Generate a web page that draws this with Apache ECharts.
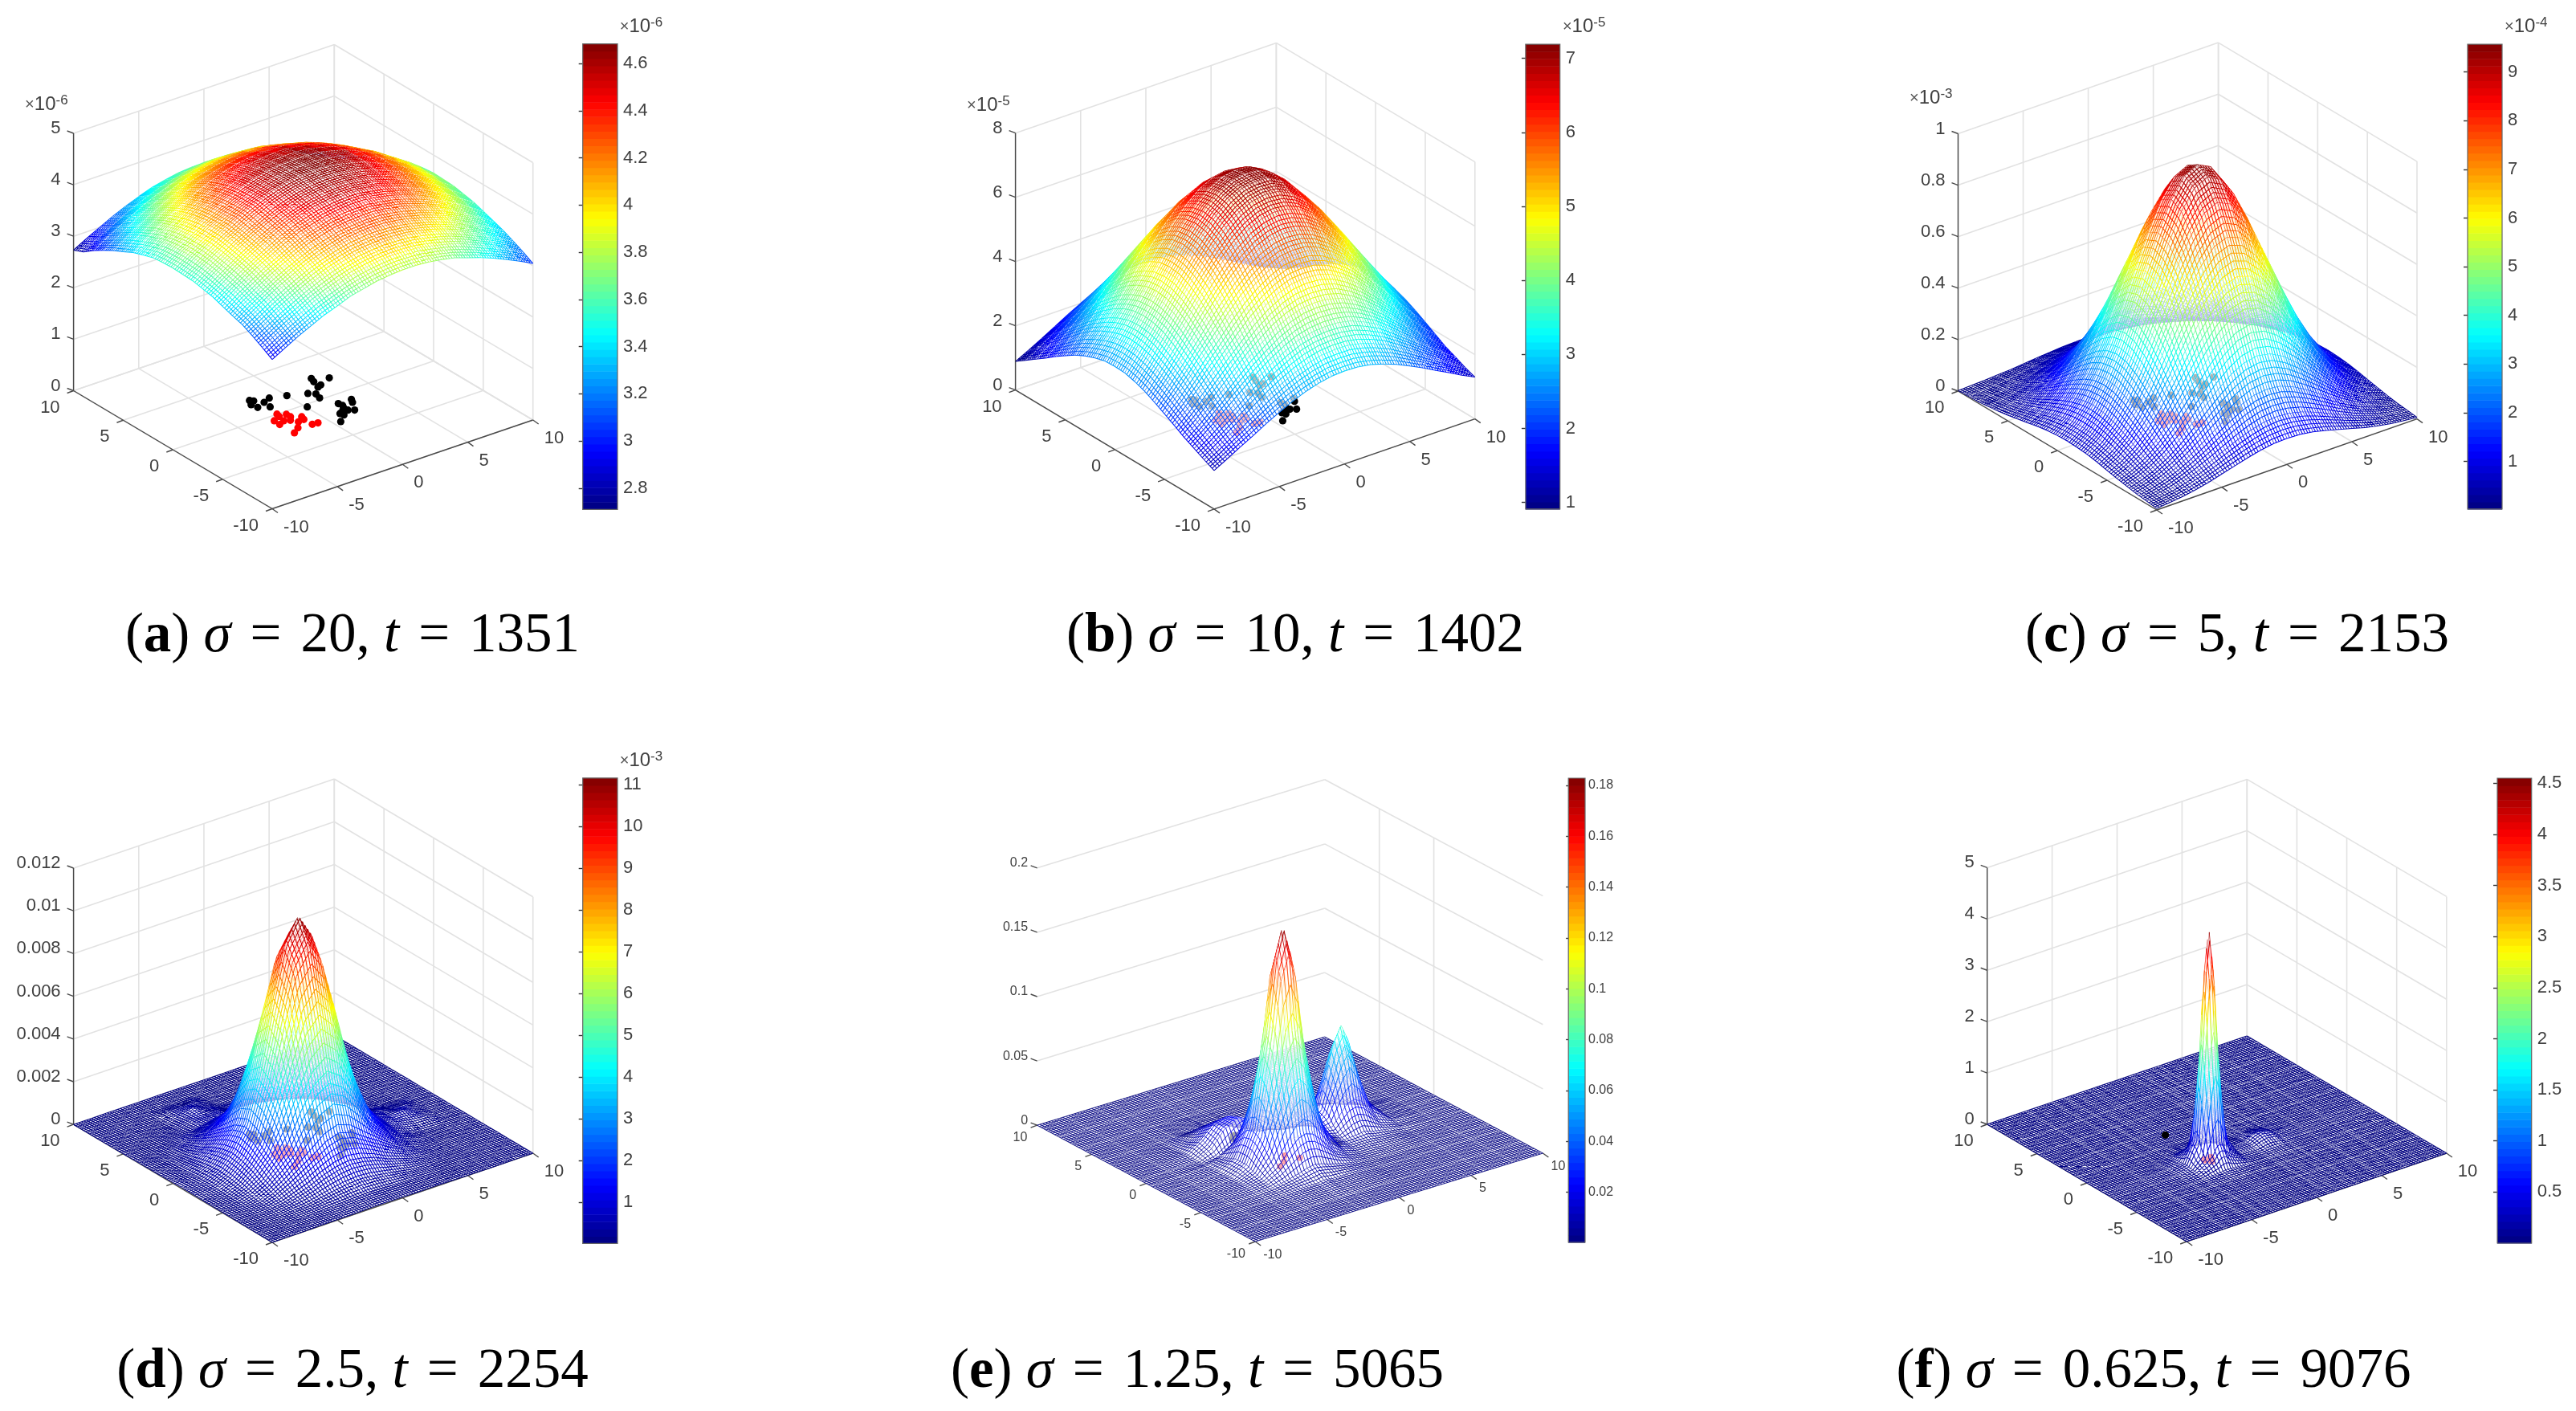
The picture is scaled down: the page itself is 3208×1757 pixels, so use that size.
<!DOCTYPE html>
<html>
<head>
<meta charset="utf-8">
<style>html,body{margin:0;background:#fff}#chart{width:3208px;height:1757px}</style>
<script src="https://cdn.jsdelivr.net/npm/echarts@6/dist/echarts.min.js"></script>
</head>
<body>
<div id="chart"></div>
<script>
// grid coordinates of the surfaces
const axisStep1 = [-10,-9,-8,-7,-6,-5,-4,-3,-2,-1,0,1,2,3,4,5,6,7,8,9,10];
const uD = [-10,-8.5,-7.5,-6.5,-5.5,-4.5,-3.5,-2.5,-1.5,-.5,.5,1.5,2.5,3.5,4.5,5.5,6.5,7.5,8.5,10];
const uE = [-10,-8,-6,-5,-4.1,-3.1,-2.6,-2.1,-1.6,-1.1,-.1,.9,1.74,2.74,3.24,3.74,4.74,6,8,10];
const vE = [-10,-8,-6,-5,-4.1,-3.1,-2.6,-2.1,-1.6,-1.1,-.4,.1,.6,1.5,2.5,4,6,8,10];
const uF = [-10,-7,-5,-4,-3.24,-2.74,-2.49,-2.24,-1.99,-1.74,-1.24,-.3,1,1.6,2.07,2.6,3.2,5,7,10];
const vF = [-10,-7,-5,-4,-3.1,-2.6,-2.35,-2.1,-1.85,-1.6,-1.1,-.3,1,3,5,7,10];

// heights, rows go from v=-10 to v=10. units: a 1e-8, b 1e-7, c 1e-6, d 1e-5, e 1e-3, f 1e-2
const surfaceA = [
[290,304,318,330,342,351,361,367,373,376,378,378,376,372,367,358,350,340,329,317,304],
[302,317,331,344,357,367,376,384,389,393,395,394,392,387,381,374,364,353,341,329,315],
[313,328,344,357,370,381,391,398,404,407,409,408,406,401,395,387,377,365,353,339,325],
[323,339,355,369,382,394,403,411,417,420,422,421,418,413,406,398,388,375,362,349,334],
[329,347,362,378,391,403,414,421,428,431,433,433,430,425,418,409,399,386,372,357,341],
[336,355,371,387,400,413,424,431,438,442,444,444,440,435,428,419,408,395,381,365,348],
[343,360,378,393,408,421,432,440,447,451,453,453,449,444,436,427,416,402,388,371,355],
[347,366,383,399,413,426,438,446,453,457,459,459,455,450,442,432,421,407,393,376,359],
[351,370,387,404,418,431,443,451,458,462,464,464,460,455,447,437,426,412,397,380,363],
[352,372,390,407,422,436,447,456,462,466,467,467,464,458,451,440,428,415,399,383,364],
[353,373,390,407,421,435,447,455,462,466,468,467,464,459,451,441,429,415,400,383,365],
[352,372,389,406,420,434,446,455,461,465,466,466,464,458,451,440,428,414,399,382,363],
[350,369,386,402,417,430,442,450,456,460,462,462,459,453,446,435,423,410,393,376,359],
[344,363,380,396,411,423,435,443,450,454,456,456,452,446,439,428,416,402,388,371,354],
[337,355,373,388,403,416,427,435,442,446,447,447,443,437,430,420,408,394,380,363,347],
[327,346,362,378,392,405,416,424,430,434,435,435,431,425,419,409,397,384,371,355,339],
[318,335,351,366,380,392,403,411,417,421,422,421,419,413,406,397,386,373,360,345,330],
[307,323,339,354,367,379,389,397,403,407,408,407,405,399,392,383,373,360,346,331,317],
[295,311,326,340,353,364,374,382,387,391,392,391,389,384,377,368,358,346,333,318,303],
[281,297,311,324,337,348,357,364,370,373,375,374,372,367,360,352,342,331,318,304,290],
[273,287,300,313,324,334,343,349,354,356,357,356,355,350,345,336,328,316,305,293,281]];
const surfaceB = [
[120,142,165,187,210,231,251,267,279,287,289,288,281,269,254,235,215,193,172,150,130],
[135,159,186,212,239,266,289,309,324,334,337,336,328,314,296,272,246,219,193,166,142],
[151,180,211,243,275,306,334,357,376,386,390,388,380,363,342,312,280,249,217,186,157],
[167,200,237,274,312,349,380,409,429,442,446,443,432,412,384,353,316,278,241,204,171],
[186,223,265,308,351,390,430,461,485,500,504,501,488,464,433,394,355,312,269,227,190],
[204,247,293,342,387,435,477,511,537,555,560,557,541,514,481,439,393,347,298,252,209],
[221,268,318,370,424,474,519,557,585,602,608,603,587,560,522,478,428,375,323,273,226],
[237,287,341,399,455,508,557,598,629,648,655,650,632,601,560,512,460,404,346,292,242],
[249,302,360,419,479,534,585,629,663,683,690,686,667,633,589,538,484,424,365,307,254],
[257,312,370,432,494,552,602,648,683,705,712,710,688,652,606,556,499,437,375,317,262],
[259,315,374,436,498,557,608,655,690,712,719,715,694,659,612,561,503,441,379,320,264],
[257,312,370,432,494,552,602,648,683,705,712,708,687,651,605,555,498,436,374,316,261],
[248,301,359,418,478,533,585,629,663,683,690,685,665,632,588,537,483,423,364,306,253],
[236,286,340,398,454,507,557,598,629,648,655,649,631,600,559,511,458,402,345,291,241],
[220,267,317,369,423,473,519,557,585,602,608,603,587,559,521,477,427,373,321,271,225],
[199,243,289,338,383,431,474,508,534,552,557,553,536,510,476,435,387,342,293,247,205],
[178,215,258,301,344,383,424,455,479,494,498,495,481,457,426,387,348,305,262,220,184],
[155,188,226,263,301,338,370,399,419,432,436,433,421,401,372,342,305,267,230,193,160],
[133,162,194,226,258,289,318,341,360,370,374,371,362,343,320,293,262,230,198,167,138],
[111,135,163,189,216,243,268,287,302,312,315,313,304,289,270,247,220,193,167,140,116],
[89,110,132,155,178,200,221,237,249,257,259,258,251,239,223,204,183,160,138,116,100]];
const surfaceC = [
[6,11,17,26,37,51,65,79,91,99,101,99,91,79,65,51,37,26,17,11,6],
[11,17,27,42,60,81,104,126,145,158,163,158,145,126,104,81,60,42,27,17,11],
[15,26,42,63,91,123,158,191,220,240,246,240,220,191,158,123,91,63,42,26,15],
[22,37,60,91,130,177,226,274,315,342,352,342,315,274,226,177,130,91,60,37,22],
[30,51,81,123,177,240,306,372,428,467,480,467,428,372,306,240,177,123,81,51,30],
[38,65,104,158,226,306,394,480,549,597,614,597,549,480,394,306,226,158,104,65,38],
[47,79,126,191,274,372,480,581,668,724,744,724,668,581,480,372,274,191,126,79,47],
[54,91,145,220,315,428,549,668,765,832,856,832,765,668,549,428,315,220,145,91,54],
[58,99,158,240,342,467,597,724,832,905,931,905,832,724,597,467,342,240,158,99,58],
[60,101,163,246,352,480,614,744,856,931,957,931,856,744,614,480,352,246,163,101,60],
[58,99,158,240,342,467,597,724,832,905,931,905,832,724,597,467,342,240,158,99,58],
[54,91,145,220,315,428,549,668,765,832,856,832,765,668,549,428,315,220,145,91,54],
[47,79,126,191,274,372,480,581,668,724,744,724,668,581,480,372,274,191,126,79,47],
[38,65,104,158,226,306,394,480,549,597,614,597,549,480,394,306,226,158,104,65,38],
[30,51,81,123,177,240,306,372,428,467,480,467,428,372,306,240,177,123,81,51,30],
[22,37,60,91,130,177,226,274,315,342,352,342,315,274,226,177,130,91,60,37,22],
[15,26,42,63,91,123,158,191,220,240,246,240,220,191,158,123,91,63,42,26,15],
[11,17,27,42,60,81,104,126,145,158,163,158,145,126,104,81,60,42,27,17,11],
[6,11,17,26,37,51,65,79,91,99,101,99,91,79,65,51,37,26,17,11,6],
[4,6,11,15,22,30,38,47,54,58,60,58,54,47,38,30,22,15,11,6,4],
[2,4,6,9,12,17,22,26,30,32,33,32,30,26,22,17,12,9,6,4,2]];
const surfaceD = [
[0,1,1,2,3,3,4,5,6,5,4,3,3,2,1,1,0,0,0,0],
[1,1,3,5,8,12,14,18,20,18,14,12,8,5,3,1,1,0,0,0],
[1,3,5,12,16,28,40,50,55,50,40,28,16,12,5,3,1,0,0,0],
[2,5,12,20,40,60,90,110,120,110,90,60,40,20,12,5,2,1,0,0],
[3,8,16,40,75,120,160,205,225,205,160,120,75,40,16,8,3,1,0,0],
[3,12,28,60,120,185,310,400,440,400,310,185,120,60,28,12,3,1,0,0],
[4,14,40,90,160,310,485,670,740,670,485,310,160,90,40,14,4,2,1,0],
[5,18,50,110,205,400,670,909,1007,909,670,400,205,110,50,33,20,17,1,0],
[6,20,55,120,225,440,740,1007,1116,1007,740,440,225,120,55,35,41,17,1,0],
[5,18,50,110,205,400,670,909,1007,909,670,400,205,110,50,33,20,17,1,0],
[4,14,40,90,160,310,485,670,740,670,485,310,160,90,40,14,4,2,1,0],
[3,12,28,60,120,185,310,400,440,400,310,185,120,60,28,12,3,1,0,0],
[3,8,16,40,75,120,160,205,225,205,160,120,75,40,16,8,3,1,0,0],
[2,5,12,20,40,60,90,110,120,110,90,60,40,20,12,5,2,1,0,0],
[1,3,5,12,16,28,40,50,55,50,40,28,16,12,5,3,1,0,0,0],
[1,1,3,5,8,27,29,33,20,18,14,12,8,5,3,1,1,0,0,0],
[0,1,1,2,3,18,39,20,6,5,4,3,3,2,1,1,0,0,0,0],
[0,0,0,1,1,16,17,17,2,2,2,1,1,1,0,0,0,0,0,0],
[0,0,0,0,0,0,1,1,1,1,1,0,0,0,0,0,0,0,0,0],
[0,0,0,0,0,0,0,0,0,0,0,0,0,0,0,0,0,0,0,0]];
const surfaceE = [
[0,0,0,0,0,0,0,0,0,0,0,0,0,0,0,0,0,0,0,0],
[0,0,0,0,0,0,0,0,0,0,0,0,0,0,0,0,0,0,0,0],
[0,0,0,1,2,2,2,3,2,2,2,1,0,0,0,0,0,0,0,0],
[0,0,1,2,4,7,9,10,9,7,4,2,1,0,0,0,0,0,0,0],
[0,0,2,4,11,25,31,33,31,25,11,4,2,2,1,1,1,0,0,0],
[0,0,2,7,25,67,96,108,96,67,25,8,4,4,4,3,2,0,0,0],
[0,0,2,9,31,96,143,161,143,96,31,9,5,6,7,5,3,1,0,0],
[0,0,2,9,33,108,161,183,161,108,33,10,7,14,15,13,5,1,0,0],
[0,0,2,9,31,96,143,161,143,96,31,11,11,25,27,24,9,2,0,0],
[0,0,2,7,25,67,96,108,96,67,25,11,17,46,56,45,15,2,0,0],
[0,0,2,5,15,34,43,47,43,34,16,9,21,67,79,66,19,2,0,0],
[0,0,1,3,8,19,24,26,24,19,9,7,18,55,66,55,17,2,0,0],
[0,0,1,7,19,25,22,19,14,10,5,4,11,31,36,31,11,2,0,0],
[0,0,2,10,20,22,18,13,8,3,2,1,4,9,10,9,4,0,0,0],
[0,0,1,5,12,14,10,6,3,1,1,0,1,2,2,2,1,0,0,0],
[0,0,0,1,1,2,1,1,1,0,0,0,0,0,0,0,0,0,0,0],
[0,0,0,0,0,0,0,0,0,0,0,0,0,0,0,0,0,0,0,0],
[0,0,0,0,0,0,0,0,0,0,0,0,0,0,0,0,0,0,0,0],
[0,0,0,0,0,0,0,0,0,0,0,0,0,0,0,0,0,0,0,0]];
const surfaceF = [
[0,0,0,0,0,0,0,0,0,0,0,0,0,0,0,0,0,0,0,0],
[0,0,0,0,0,0,0,0,0,0,0,0,0,0,0,0,0,0,0,0],
[0,0,0,0,1,1,1,1,1,1,1,0,0,0,0,0,0,0,0,0],
[0,0,0,1,3,4,5,5,5,4,3,1,0,0,0,0,0,0,0,0],
[0,0,1,5,18,30,45,50,45,30,18,3,1,3,3,3,1,0,0,0],
[0,0,2,6,30,145,215,256,215,145,30,4,3,7,9,7,2,0,0,0],
[0,0,2,7,45,215,340,393,340,215,45,5,4,10,12,10,3,0,0,0],
[0,0,2,8,50,256,393,455,393,256,50,5,5,12,15,12,4,0,0,0],
[0,0,2,7,45,215,340,393,340,215,45,5,5,13,16,13,4,0,0,0],
[0,0,2,6,30,145,215,256,215,145,30,4,5,13,15,12,4,0,0,0],
[0,0,1,5,18,30,45,50,45,30,18,3,3,8,10,8,2,0,0,0],
[0,0,0,2,4,5,6,6,6,5,4,1,0,2,2,2,0,0,0,0],
[0,0,0,0,0,0,0,0,0,0,0,0,0,0,0,0,0,0,0,0],
[0,0,0,0,0,0,0,0,0,0,0,0,0,0,0,0,0,0,0,0],
[0,0,0,0,0,0,0,0,0,0,0,0,0,0,0,0,0,0,0,0],
[0,0,0,0,0,0,0,0,0,0,0,0,0,0,0,0,0,0,0,0],
[0,0,0,0,0,0,0,0,0,0,0,0,0,0,0,0,0,0,0,0]];

// sample points on the floor [u, v]
const blackPoints = [[-2.22,2.5],[-2.2,2.31],[-2.49,1.98],[-2.06,2.29],[-2.39,1.45],[-1.66,1.76],[-1.06,2.03],[-1.74,1.05],[0,1.65],
  [2.6,2.6],[2.45,2.16],[3.52,2],[2.53,1.56],[2.22,1.43],[1.2,1.11],[1.55,.76],[1.4,.19],[.07,-.31],
  [1.85,-1.1],[1.91,-1.46],[1.75,-1.8],[1.12,-2.23],[1.2,-2.52],[1.79,-2.15],[2.12,-2.39],[2.84,-1.12],[2.65,-1.48],[.5,-3.12],[1.47,-2.04]];
const redPoints = [[-2.68,-.6],[-2,.02],[-2.09,-.32],[-2.72,-1.2],[-2.22,-.95],[-1.56,-.35],[-1.56,-.76],[-1.85,-1.13],[-1.59,-1.6],
  [-1.01,-1.17],[-1.13,-1.54],[-2.1,-2.22],[-2.69,-2.64],[-1.11,-2.37],[-.72,-2.43]];
// in e and f most points are lost in the dense flat mesh, only these still show
const blackPointsE = [[-2.2,2.31],[-2.06,2.29],[-2.49,1.98],[1.75,-1.8],[1.79,-2.15],[1.91,-1.46]];
const redPointsE = [[-2.1,-2.22],[-2.69,-2.64],[-1.59,-1.6],[-1.11,-2.37]];
const redPointsF = [[-2.1,-2.22],[-1.85,-1.8],[-2.35,-1.8]];
const blackPointsF = [[-2.2,2.3]];
const floorTicks = [-10,-5,0,5,10];

const zTicksA = ['0','1','2','3','4','5'];
const zTicksB = ['0','2','4','6','8'];
const zTicksC = ['0','0.2','0.4','0.6','0.8','1'];
const zTicksD = ['0','0.002','0.004','0.006','0.008','0.01','0.012'];
const zTicksE = ['0','0.05','0.1','0.15','0.2'];
const zTicksF = ['0','1','2','3','4','5'];

const barTicksA = [2.8,3,3.2,3.4,3.6,3.8,4,4.2,4.4,4.6];
const barTicksB = [1,2,3,4,5,6,7];
const barTicksC = [1,2,3,4,5,6,7,8,9];
const barTicksD = [1,2,3,4,5,6,7,8,9,10,11];
const barTicksE = [.02,.04,.06,.08,.1,.12,.14,.16,.18];
const barTicksF = [.5,1,1.5,2,2.5,3,3.5,4,4.5];

const SANS = '"Liberation Sans", Arial, sans-serif';
const NARROW = '"Liberation Sans Narrow", "Liberation Sans", sans-serif';
const SERIF = '"Liberation Serif", serif';

const scenes = [
  {u:axisStep1, v:axisStep1, z:surfaceA, unit:.01, axisMax:500, zt:zTicksA, cb:[2.71,4.683], bt:barTicksA, exp:'-6', zExp:'-6', zExpDy:-36,
   F:[339,633.5], R:[663.7,523], L:[91.6,486.5], H:320.5, bar:[725.7,54.7,43.3,579.6], veil:.72,
   cap:['a','20','1351'], capX:434, capY:788},
  {u:axisStep1, v:axisStep1, z:surfaceB, unit:.01, axisMax:800, zt:zTicksB, cb:[.91,7.19], bt:barTicksB, exp:'-5', zExp:'-5', zExpDy:-34,
   F:[1512,633.9], R:[1836.8,521.6], L:[1264.6,485.7], H:320, bar:[1899.9,55.1,42.8,578.8], veil:.72,
   cap:['b','10','1402'], capX:1608, capY:788},
  {u:axisStep1, v:axisStep1, z:surfaceC, unit:.01, axisMax:1000, zt:zTicksC, cb:[.02,9.57], bt:barTicksC, exp:'-4', zExp:'-3', zExpDy:-44,
   F:[2685.9,635], R:[3010,521.6], L:[2438.5,487], H:320.5, bar:[3073,55.1,43,578.8], veil:.7,
   cap:['c','5','2153'], capX:2781, capY:788},
  {u:uD, v:uD, z:surfaceD, unit:.01, axisMax:1200, zt:zTicksD, cb:[.02,11.16], bt:barTicksD, exp:'-3', zExpDy:0,
   F:[339,1547], R:[663.7,1436], L:[91.6,1400.2], H:319.2, bar:[725.7,968.8,43.3,579.6], veil:.7,
   cap:['d','2.5','2254'], capX:434, capY:1704},
  {u:uE, v:vE, z:surfaceE, unit:.001, axisMax:200, zt:zTicksE, cb:[.0003,.1828], bt:barTicksE, small:true, black:blackPointsE, red:redPointsE,
   F:[1563.2,1546], R:[1921.4,1436], L:[1291.6,1401.2], H:320.4, bar:[1953.2,969,20.8,578], veil:.65,
   cap:['e','1.25','5065'], capX:1486, capY:1704},
  {u:uF, v:vF, z:surfaceF, unit:.01, axisMax:500, zt:zTicksF, cb:[0,4.55], bt:barTicksF, black:[], red:redPointsF, top:blackPointsF,
   F:[2723.2,1546], R:[3046.8,1436], L:[2474.7,1400], H:319.6, bar:[3110,969,42.7,579], veil:.65,
   cap:['f','0.625','9076'], capX:2677, capY:1704}
];

const clamp = (x, a, b) => Math.max(a, Math.min(b, x));

function jet(t) {
  t = clamp(t, 0, 1);
  const r = clamp(1.5 - Math.abs(4 * t - 3), 0, 1);
  const g = clamp(1.5 - Math.abs(4 * t - 2), 0, 1);
  const b = clamp(1.5 - Math.abs(4 * t - 1), 0, 1);
  return [Math.round(r * 255), Math.round(g * 255), Math.round(b * 255)];
}
const rgb = c => 'rgb(' + c.join(',') + ')';
const lerp = (a, b, t) => [a[0] + (b[0] - a[0]) * t, a[1] + (b[1] - a[1]) * t];

// orthographic projection of one panel: floor corners F, R, L and z axis height H
function project(s, u, v, z) {
  const a = (u + 10) / 20, b = (v + 10) / 20;
  return [
    s.F[0] + a * (s.R[0] - s.F[0]) + b * (s.L[0] - s.F[0]),
    s.F[1] + a * (s.R[1] - s.F[1]) + b * (s.L[1] - s.F[1]) - z / s.axisMax * s.H
  ];
}

// wire texture: 5 strokes per axis unit, at the same spacing in every cell
const WIRES_PER_UNIT = 5;
function wireStops(a, b, closeEnd) {
  const out = [];
  for (let k = Math.ceil(a * WIRES_PER_UNIT - 1e-6); ; k++) {
    const x = k / WIRES_PER_UNIT;
    if (x > b + 1e-6 || (!closeEnd && x > b - 1e-6)) break;
    out.push((x - a) / (b - a));
  }
  return out;
}

function buildCells(s) {
  const cells = [];
  const col = val => jet((val * s.unit - s.cb[0]) / (s.cb[1] - s.cb[0]));
  const lastI = s.u.length - 2, lastJ = s.v.length - 2;
  // back corner first, front corner last
  for (let j = lastJ; j >= 0; j--) {
    for (let i = lastI; i >= 0; i--) {
      const corners = [[i, j], [i + 1, j], [i + 1, j + 1], [i, j + 1]].map(c => {
        const h = s.z[c[1]][c[0]];
        return { h: h, p: project(s, s.u[c[0]], s.v[c[1]], h) };
      });
      const sorted = corners.slice().sort((a, b) => a.h - b.h);
      const lo = sorted[0], hi = sorted[3];
      let stroke = rgb(col((lo.h + hi.h) / 2));
      if (hi.h - lo.h > 1 && (lo.p[0] !== hi.p[0] || lo.p[1] !== hi.p[1])) {
        stroke = {
          type: 'linear', global: true,
          x: lo.p[0], y: lo.p[1], x2: hi.p[0], y2: hi.p[1],
          colorStops: [0, .25, .5, .75, 1].map(t => ({
            offset: t, color: rgb(col(lo.h + (hi.h - lo.h) * t))
          }))
        };
      }
      const [p00, p10, p11, p01] = corners.map(c => c.p);
      let d = '';
      const add = (a, b) => { d += 'M' + a[0].toFixed(1) + ' ' + a[1].toFixed(1) + 'L' + b[0].toFixed(1) + ' ' + b[1].toFixed(1); };
      wireStops(s.u[i], s.u[i + 1], i === lastI).forEach(t => add(lerp(p00, p10, t), lerp(p01, p11, t)));
      wireStops(s.v[j], s.v[j + 1], j === lastJ).forEach(t => add(lerp(p00, p01, t), lerp(p10, p11, t)));
      cells.push({ pts: [p00, p10, p11, p01], stroke: stroke, wire: d });
    }
  }
  return cells;
}

function buildWalls(s) {
  const light = [], dark = [], noVerticals = s.small;
  const top = s.axisMax;
  const seg = (a, b, list) => list.push([project(s, a[0], a[1], a[2]), project(s, b[0], b[1], b[2])]);
  floorTicks.forEach(t => {
    seg([t, -10, 0], [t, 10, 0], light);
    seg([-10, t, 0], [10, t, 0], light);
    if (!noVerticals) seg([t, 10, 0], [t, 10, top], light);
    if (!noVerticals || (t >= 0 && t < 10)) seg([10, t, 0], [10, t, top], light);
  });
  s.zt.forEach((_, k) => {
    const h = k / (s.zt.length - 1) * top;
    seg([-10, 10, h], [10, 10, h], light);
    seg([10, 10, h], [10, -10, h], light);
  });
  if (!s.small) {
    seg([-10, 10, 0], [-10, 10, top], dark);
    seg([-10, 10, 0], [-10, -10, 0], dark);
    seg([-10, -10, 0], [10, -10, 0], dark);
  }
  s.zt.forEach((_, k) => {
    const p = project(s, -10, 10, k / (s.zt.length - 1) * top);
    dark.push([p, [p[0] - 8, p[1] - 3]]);
  });
  floorTicks.forEach(t => {
    const pv = project(s, -10, t, 0), pu = project(s, t, -10, 0);
    dark.push([pv, [pv[0] - 8, pv[1] + 3]]);
    dark.push([pu, [pu[0] + 7, pu[1] + 5]]);
  });
  return { light: light, dark: dark };
}

function buildLabels(s) {
  const size = s.small ? 16 : 22;
  const font = s.small ? NARROW : SANS;
  const gap = s.small ? .72 : 1;
  const out = [];
  s.zt.forEach((txt, k) => {
    const p = project(s, -10, 10, k / (s.zt.length - 1) * s.axisMax);
    out.push({ x: p[0] - 16 * gap, y: p[1] - 6, text: txt, align: 'right', size: size, font: font });
  });
  floorTicks.forEach(t => {
    const pv = project(s, -10, t, 0), pu = project(s, t, -10, 0);
    out.push({ x: pv[0] - 17 * gap, y: pv[1] + 21 * gap, text: String(t), align: 'right', size: size, font: font });
    out.push({ x: pu[0] + 14 * gap, y: pu[1] + 23 * gap, text: String(t), align: 'left', size: size, font: font });
  });
  return out;
}

function customSeries(name, items, draw) {
  return {
    type: 'custom', name: name, xAxisIndex: 0, yAxisIndex: 0, silent: true, animation: false,
    progressive: 0, clip: false,
    data: items.map((_, k) => [k, 0]),
    renderItem: (params, api) => draw(items[params.dataIndex], api)
  };
}

const grids = [{ left: 0, top: 0, width: 3208, height: 1757 }];
const xAxes = [{ type: 'value', gridIndex: 0, min: 0, max: 3208, show: false }];
const yAxes = [{ type: 'value', gridIndex: 0, min: 0, max: 1757, inverse: true, show: false }];
const series = [];
const titles = [];

scenes.forEach((s, idx) => {
  const walls = buildWalls(s);
  const lineDraw = (stroke, width) => (seg, api) => {
    const a = api.coord(seg[0]), b = api.coord(seg[1]);
    return { type: 'line', shape: { x1: a[0], y1: a[1], x2: b[0], y2: b[1] }, style: { stroke: stroke, lineWidth: width } };
  };
  series.push(customSeries('walls', walls.light, lineDraw('#e2e2e2', 1.6)));
  series.push(customSeries('axes', walls.dark, lineDraw('#4a4a4a', 1.4)));

  const dot = color => (pt, api) => {
    const c = api.coord(project(s, pt[0], pt[1], 0));
    return { type: 'circle', shape: { cx: c[0], cy: c[1], r: s.small ? 4 : 4.6 }, style: { fill: color } };
  };
  series.push(customSeries('black points', s.black || blackPoints, dot('#000')));
  series.push(customSeries('red points', s.red || redPoints, dot('#f00')));

  series.push(customSeries('surface', buildCells(s), (cell, api) => ({
    type: 'group',
    children: [
      { type: 'polygon', shape: { points: cell.pts.map(p => api.coord(p)) }, style: { fill: 'rgba(255,255,255,' + s.veil + ')' } },
      { type: 'path', shape: { pathData: cell.wire }, style: { fill: 'none', stroke: cell.stroke, lineWidth: s.small ? .9 : 1.05 } }
    ]
  })));
  if (s.top) series.push(customSeries('top points', s.top, dot('#000')));

  series.push(customSeries('tick labels', buildLabels(s), (l, api) => {
    const c = api.coord([l.x, l.y]);
    return { type: 'text', x: c[0], y: c[1], style: {
      text: l.text, fill: '#404040', fontSize: l.size, fontFamily: l.font, align: l.align, verticalAlign: 'middle'
    } };
  }));

  if (s.zExp) {
    const top = project(s, -10, 10, s.axisMax);
    series.push(customSeries('z exponent', [[top[0] - 7, top[1] + s.zExpDy]], (p, api) => {
      const c = api.coord(p);
      return { type: 'text', x: c[0], y: c[1], style: {
        text: '{m|×}{n|10}{s|' + s.zExp + '}', align: 'right', verticalAlign: 'middle',
        rich: {
          m: { fontSize: 20, fontFamily: SANS, fill: '#555' },
          n: { fontSize: 24, fontFamily: SANS, fill: '#404040' },
          s: { fontSize: 17, fontFamily: SANS, fill: '#404040', verticalAlign: 'top', padding: [0, 0, 10, 0] }
        }
      } };
    }));
  }

  // colorbar: own grid and real value axis
  const g = idx + 1;
  grids.push({ left: s.bar[0], top: s.bar[1], width: s.bar[2], height: s.bar[3] });
  xAxes.push({ type: 'value', gridIndex: g, min: 0, max: 1, show: false });
  const size = s.small ? 16 : 22;
  const font = s.small ? NARROW : SANS;
  yAxes.push({
    type: 'value', gridIndex: g, position: 'right', min: s.cb[0], max: s.cb[1],
    splitLine: { show: false },
    axisLine: { show: false },
    axisTick: { show: true, inside: true, length: s.small ? 3 : 5, customValues: s.bt, lineStyle: { color: '#333', width: 1.4 } },
    axisLabel: { customValues: s.bt, color: '#404040', fontSize: size, fontFamily: font, margin: s.small ? 4 : 7, showMinLabel: true, showMaxLabel: true },
    name: s.exp ? '{m|×}{n|10}{s|' + s.exp + '}' : '',
    nameLocation: 'end', nameGap: 8,
    nameTextStyle: {
      align: 'left', verticalAlign: 'bottom', padding: [0, 0, 0, 46],
      rich: {
        m: { fontSize: 20, fontFamily: SANS, color: '#555' },
        n: { fontSize: 24, fontFamily: SANS, color: '#404040' },
        s: { fontSize: 17, fontFamily: SANS, color: '#404040', verticalAlign: 'top', padding: [0, 0, 10, 0] }
      }
    }
  });
  const levels = [];
  for (let k = 0; k < 64; k++) levels.push(k);
  const step = (s.cb[1] - s.cb[0]) / 64;
  series.push({
    type: 'custom', name: 'colorbar', xAxisIndex: g, yAxisIndex: g, silent: true, animation: false,
    data: levels.map(k => [0, s.cb[0] + k * step]),
    renderItem: (params, api) => {
      const k = params.dataIndex;
      const a = api.coord([0, s.cb[0] + k * step]);
      const b = api.coord([1, s.cb[0] + (k + 1) * step]);
      return { type: 'rect', shape: { x: a[0], y: b[1], width: b[0] - a[0], height: a[1] - b[1] + .6 }, style: { fill: rgb(jet((k + .5) / 64)) } };
    }
  });
  series.push({
    type: 'custom', name: 'colorbar frame', xAxisIndex: g, yAxisIndex: g, silent: true, animation: false, z: 3,
    data: [[0, s.cb[0]]],
    renderItem: (params, api) => {
      const a = api.coord([0, s.cb[0]]), b = api.coord([1, s.cb[1]]);
      return { type: 'rect', shape: { x: a[0], y: b[1], width: b[0] - a[0], height: a[1] - b[1] }, style: { fill: 'none', stroke: '#666', lineWidth: 1.2 } };
    }
  });

  const base = { fontSize: 69, fontFamily: SERIF, fontWeight: 'normal', color: '#000' };
  titles.push({
    left: s.capX, top: s.capY, textAlign: 'center', textVerticalAlign: 'middle',
    text: '{p|(}{b|' + s.cap[0] + '}{p|) }{i|σ}{e|=}{p|' + s.cap[1] + ', }{i|t}{e|=}{p|' + s.cap[2] + '}',
    textStyle: {
      fontWeight: 'normal',
      rich: {
        p: base,
        b: Object.assign({}, base, { fontWeight: 'bold' }),
        i: Object.assign({}, base, { fontStyle: 'italic' }),
        e: Object.assign({}, base, { padding: [0, 24, 0, 24] })
      }
    }
  });
});

const chart = echarts.init(document.getElementById('chart'), null, { renderer: 'canvas' });
chart.setOption({
  backgroundColor: '#fff',
  animation: false,
  title: titles,
  grid: grids,
  xAxis: xAxes,
  yAxis: yAxes,
  series: series
});
</script>
</body>
</html>
